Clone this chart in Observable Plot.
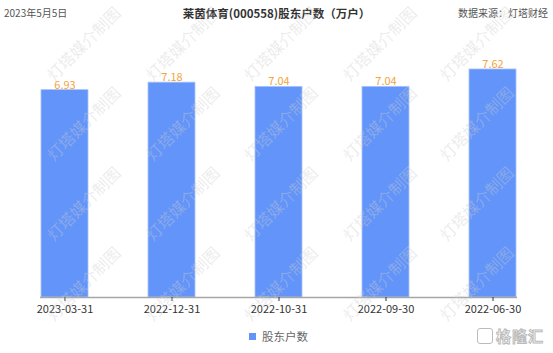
<!DOCTYPE html>
<html>
<head>
<meta charset="utf-8">
<script src="https://cdn.jsdelivr.net/npm/d3@7"></script>
<script src="https://cdn.jsdelivr.net/npm/@observablehq/plot@0.6"></script>
<style>
  html, body { margin: 0; padding: 0; background: #fff; }
  body { font-family: "Noto Sans CJK SC", "Noto Sans", sans-serif; }
  #wrap { position: relative; width: 553px; height: 353px; overflow: hidden; }
  #header { position: relative; height: 25px; width: 553px; }
  #date { position: absolute; left: 4px; top: 5px; font-size: 10px; color: #555; line-height: 16px; }
  #title { position: absolute; left: 0; width: 553px; top: 4px; text-align: center; font-size: 11.5px; font-weight: bold; color: #333; line-height: 18px; }
  #source { position: absolute; right: 5px; top: 5px; font-size: 10px; color: #555; line-height: 16px; }
  #legend { position: relative; height: 28px; width: 553px; }
  #legend .sw { position: absolute; left: 249px; top: 8px; width: 7px; height: 7px; background: #6294f9; }
  #legend .lb { position: absolute; left: 262px; top: 2px; font-size: 11.5px; color: #666; line-height: 18px; }
  #logo { position: absolute; left: 477px; top: 327px; font-size: 15px; font-weight: bold; color: #fff; -webkit-text-stroke: 1px #bbb; line-height: 18px; letter-spacing: 1px; }
  #logo .box { display: inline-block; width: 14px; height: 14px; border: 1.5px solid #bbb; border-radius: 3px; vertical-align: -2px; margin-right: 3px; }
  #wm { position: absolute; left: 0; top: 0; width: 553px; height: 353px; pointer-events: none; }
  #wm span { position: absolute; font-size: 16px; color: rgba(205,205,205,0.38); white-space: nowrap; transform: translate(-50%, -50%) rotate(-45deg); line-height: 16px; }
</style>
</head>
<body>
<div id="wrap">
  <div id="header">
    <div id="date"></div>
    <div id="title"></div>
    <div id="source"></div>
  </div>
  <div id="chart"></div>
  <div id="legend"><div class="sw"></div><div class="lb"></div></div>
  <div id="logo"><span class="box"></span>格隆汇</div>
  <div id="wm"></div>
</div>
<script>
const dates = ["2023-03-31", "2022-12-31", "2022-10-31", "2022-09-30", "2022-06-30"];
const holders = [6.93, 7.18, 7.04, 7.04, 7.62];
const titleText = "莱茵体育(000558)股东户数（万户）";
const dateText = "2023年5月5日";
const sourceText = "数据来源：灯塔财经";
const seriesName = "股东户数";
const watermarkText = "灯塔媒介制图";

document.getElementById("date").textContent = dateText;
document.getElementById("title").textContent = titleText;
document.getElementById("source").textContent = sourceText;
document.querySelector("#legend .lb").textContent = seriesName;

// faint repeated watermark
const wm = document.getElementById("wm");
const wmCols = [83, 182, 280, 379, 476];
const wmRows = [43, 123, 203, 283];
for (const cy of wmRows) for (const cx of wmCols) {
  const s = document.createElement("span");
  s.textContent = watermarkText;
  s.style.left = cx + "px";
  s.style.top = cy + "px";
  wm.appendChild(s);
}

const data = dates.map((d, i) => ({date: d, value: holders[i]}));

const chart = Plot.plot({
  width: 553,
  height: 300,
  marginLeft: 40,
  marginRight: 36,
  marginTop: 32.6,
  marginBottom: 28,
  style: {fontFamily: "'Noto Sans CJK SC', 'Noto Sans', sans-serif", fontSize: "11px", color: "#333", background: "transparent"},
  x: {domain: dates, paddingInner: 0.562, paddingOuter: 0, label: null, axis: null},
  y: {domain: [0, 8], axis: null},
  marks: [
    Plot.barY(data, {x: "date", y: "value", fill: "#6294f9", stroke: "#a9c4fb", strokeWidth: 0.8}),
    Plot.ruleY([0], {stroke: "#a6a6a6", strokeWidth: 1.6}),
    Plot.axisX({tickSize: 4, tickPadding: 4, stroke: "#333", fill: "#333", fontSize: 11, label: null}),
    Plot.text(data, {x: "date", y: "value", text: d => d.value.toFixed(2), dy: -5, fill: "#f5a33a", fontSize: 11})
  ]
});
document.getElementById("chart").appendChild(chart);
</script>
</body>
</html>
